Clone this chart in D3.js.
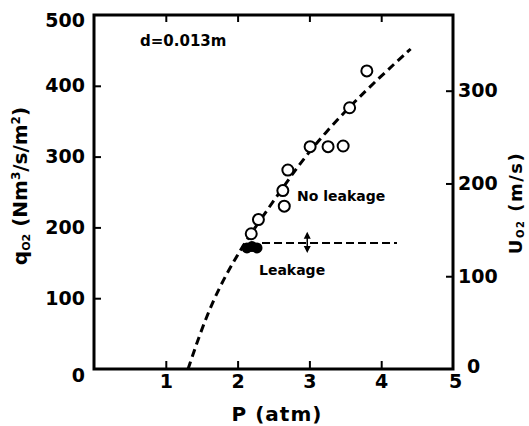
<!DOCTYPE html>
<html><head><meta charset="utf-8">
<script src="https://cdn.jsdelivr.net/npm/d3@7"></script>
<style>
body{margin:0;background:#fff;}
text{font-family:"DejaVu Sans",sans-serif;font-weight:bold;fill:#000;}
</style></head>
<body>
<svg id="c" width="529" height="426"></svg>
<script>
// Data
const xTicks = [1, 2, 3, 4, 5];
const yTicks = [0, 100, 200, 300, 400, 500];
const uTicks = [100, 200, 300];
const openP = [3.80, 3.56, 3.01, 3.26, 3.47, 2.70, 2.63, 2.65, 2.29, 2.19];
const openQ = [421, 369, 314, 314, 315, 281, 252, 230, 211, 191];
const filledP = [2.13, 2.20, 2.27];
const filledQ = [171, 173, 171];
const curveP = [1.31, 1.48, 1.66, 1.85, 2.01, 2.17, 2.60, 3.00, 3.55, 4.00, 4.41];
const curveQ = [0, 51, 97, 135, 163, 189, 252, 309, 370, 414, 452];
const boundaryQ = 178;
const boundaryP = [2.34, 4.22];
const arrowP = 2.97;
const arrowQ = [194, 164];

const svg = d3.select("#c");
const x = d3.scaleLinear([0, 5], [94, 453]);
const y = d3.scaleLinear([0, 500], [369, 15]);
const yU = d3.scaleLinear([0, 381.6], [369, 15]);

// frame
svg.append("rect").attr("x", x(0)).attr("y", y(500))
  .attr("width", x(5) - x(0)).attr("height", y(0) - y(500))
  .attr("fill", "none").attr("stroke", "#000").attr("stroke-width", 3);

function styleAxis(g) {
  g.select(".domain").remove();
  g.selectAll(".tick line").attr("stroke", "#000").attr("stroke-width", 2);
  g.selectAll(".tick text").attr("font-family", "DejaVu Sans").attr("font-weight", "bold").attr("font-size", 19).attr("fill", "#000");
}

// left axis
const gl = svg.append("g").attr("transform", `translate(${x(0)},0)`)
  .call(d3.axisLeft(y).tickValues(yTicks).tickSize(-7).tickPadding(9).tickFormat(d3.format("d")));
styleAxis(gl);
gl.selectAll(".tick").filter(d => d === 0).select("text").attr("y", 6);
gl.selectAll(".tick").filter(d => d === 0 || d === 500).select("line").remove();
gl.selectAll(".tick").filter(d => d === 500).select("text").attr("y", 5);

// bottom axis
const gb = svg.append("g").attr("transform", `translate(0,${y(0)})`)
  .call(d3.axisBottom(x).tickValues(xTicks).tickSize(-8).tickPadding(6).tickFormat(d3.format("d")));
styleAxis(gb);
gb.selectAll(".tick").filter(d => d === 5).select("line").remove();
gb.selectAll(".tick").filter(d => d === 5).select("text").attr("x", 2);

// top ticks
const gt = svg.append("g").attr("transform", `translate(0,${y(500)})`)
  .call(d3.axisTop(x).tickValues([1, 2, 3, 4]).tickSize(-7).tickFormat(""));
styleAxis(gt);

// right axis
const gr = svg.append("g").attr("transform", `translate(${x(5)},0)`)
  .call(d3.axisRight(yU).tickValues([0].concat(uTicks)).tickSize(-7).tickPadding(5).tickFormat(d3.format("d")));
styleAxis(gr);
gr.selectAll(".tick").filter(d => d === 0).select("line").remove();
gr.selectAll(".tick").filter(d => d === 0).select("text").attr("x", 14).attr("y", -3);

// curve
svg.append("path")
  .datum(curveP.map((p, i) => [p, curveQ[i]]))
  .attr("d", d3.line().x(d => x(d[0])).y(d => y(d[1])).curve(d3.curveBasis))
  .attr("fill", "none").attr("stroke", "#000").attr("stroke-width", 3)
  .attr("stroke-dasharray", "8,5");

// boundary line
svg.append("line")
  .attr("x1", x(boundaryP[0])).attr("x2", x(boundaryP[1]))
  .attr("y1", y(boundaryQ)).attr("y2", y(boundaryQ))
  .attr("stroke", "#000").attr("stroke-width", 2).attr("stroke-dasharray", "8,4");

// double arrow
const ax = x(arrowP), ay1 = y(arrowQ[0]), ay2 = y(arrowQ[1]);
svg.append("line").attr("x1", ax).attr("x2", ax).attr("y1", ay1 + 2).attr("y2", ay2 - 2)
  .attr("stroke", "#000").attr("stroke-width", 1.5);
svg.append("path").attr("d", `M${ax},${ay1} l-3.5,7 l7,0 z M${ax},${ay2} l-3.5,-7 l7,0 z`).attr("fill", "#000");

// filled points
svg.selectAll(".fp").data(filledP.map((p, i) => [p, filledQ[i]])).enter()
  .append("circle").attr("class", "fp")
  .attr("cx", d => x(d[0])).attr("cy", d => y(d[1])).attr("r", 5.5)
  .attr("fill", "#000");

// open points
svg.selectAll(".op").data(openP.map((p, i) => [p, openQ[i]])).enter()
  .append("circle").attr("class", "op")
  .attr("cx", d => x(d[0])).attr("cy", d => y(d[1])).attr("r", 5.5)
  .attr("fill", "#fff").attr("stroke", "#000").attr("stroke-width", 2);

// annotations
svg.append("text").attr("x", 140).attr("y", 46).attr("font-size", 15).text("d=0.013m");
svg.append("text").attr("x", 297).attr("y", 201).attr("font-size", 14).text("No leakage");
svg.append("text").attr("x", 259).attr("y", 275).attr("font-size", 14).text("Leakage");

// axis titles
svg.append("text").attr("x", 277).attr("y", 421).attr("text-anchor", "middle")
  .attr("font-size", 20).attr("letter-spacing", 1).text("P (atm)");

const lt = svg.append("text").attr("transform", "translate(27,186) rotate(-90)")
  .attr("text-anchor", "middle").attr("font-size", 20);
lt.append("tspan").text("q");
lt.append("tspan").attr("font-size", 11).attr("dy", 3).text("O2");
lt.append("tspan").attr("dy", -3).text(" (Nm");
lt.append("tspan").attr("font-size", 12).attr("dy", -7).text("3");
lt.append("tspan").attr("dy", 7).text("/s/m");
lt.append("tspan").attr("font-size", 12).attr("dy", -7).text("2");
lt.append("tspan").attr("dy", 7).text(")");

const rt = svg.append("text").attr("transform", "translate(522,203) rotate(-90)")
  .attr("text-anchor", "middle").attr("font-size", 18).attr("letter-spacing", 1.5);
rt.append("tspan").text("U");
rt.append("tspan").attr("font-size", 10).attr("dy", 2).text("O2");
rt.append("tspan").attr("dy", -2).text(" (m/s)");
</script>
</body></html>
